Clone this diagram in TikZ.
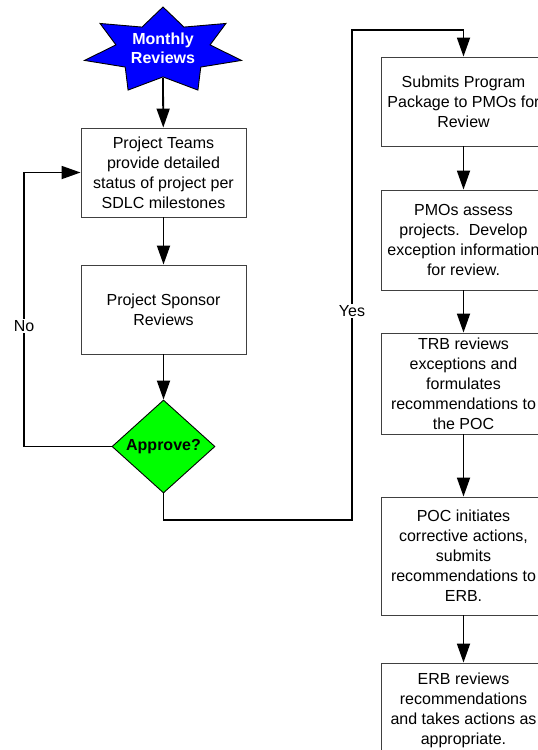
\documentclass[tikz,border=0pt]{standalone}
\usepackage{fontspec}
\setmainfont{Liberation Sans}
\usetikzlibrary{arrows.meta,shapes.geometric}
\begin{document}
\begin{tikzpicture}[x=1pt,y=-1pt,
  txt/.style={font=\fontsize{16}{20}\selectfont, align=center},
  box/.style={txt, draw=black!75, line width=0.9pt, fill=white, minimum width=165pt, inner sep=0pt},
  conn/.style={line width=1.8pt, -{Triangle[length=19pt,width=13pt]}},
  plain/.style={line width=1.8pt},
  lbl/.style={font=\fontsize{16}{20}\selectfont, fill=white, inner sep=1pt}
]
\useasboundingbox (0,0) rectangle (538,750);
\clip (0,0) rectangle (538,750);
% star
\draw[fill=blue, draw=black, line width=0.9pt]
  plot[samples at={0,...,13}] ({163+80.5*(1-0.4*mod(\x,2))*cos(90+\x*180/7)}, {50.7-43.7*(1-0.4*mod(\x,2))*sin(90+\x*180/7)}) -- cycle;
\node[txt, text=white, font=\fontsize{16}{19}\selectfont\bfseries] (star) at (163,48) {Monthly\\Reviews};
\coordinate (starb) at (163,78);
% left column
\node[box, minimum height=89pt] (b1) at (163.5,172.5) {Project Teams\\provide detailed\\status of project per\\SDLC milestones};
\node[box, minimum height=89pt] (b2) at (163.5,309.5) {Project Sponsor\\Reviews};
\node[diamond, draw=black, line width=0.9pt, fill=green, minimum width=103pt, minimum height=93pt, inner sep=0pt, font=\fontsize{16}{20}\selectfont\bfseries] (dia) at (163.5,446.5) {Approve?};
% right column
\node[box, minimum height=89pt] (bA) at (463.5,101.5) {Submits Program\\Package to PMOs for\\Review};
\node[box, minimum height=100pt] (bB) at (463.5,240) {PMOs assess\\projects.\ \ Develop\\exception information\\for review.};
\node[box, minimum height=101pt] (bC) at (463.5,383.5) {TRB reviews\\exceptions and\\formulates\\recommendations to\\the POC};
\node[box, minimum height=118pt] (bD) at (463.5,556) {POC initiates\\corrective actions,\\submits\\recommendations to\\ERB.};
\node[box, minimum height=94pt] (bE) at (463.5,710) {ERB reviews\\recommendations\\and takes actions as\\appropriate.};
% connectors
\draw[conn] (starb) -- (b1);
\draw[conn] (b1) -- (b2);
\draw[conn] (b2) -- (dia);
\coordinate (nocorner) at (24,446.5);
\draw[conn] (dia.west) -- (nocorner) |- (b1.west);
\node[lbl] (nolbl) at (24,326) {No};
\coordinate (ya) at (163.5,520);
\coordinate (yb) at (352,30);
\draw[conn] (dia.south) -- (ya) -| (yb) -| (bA.north);
\node[lbl] (yeslbl) at (352,311) {Yes};
\draw[conn] (bA) -- (bB);
\draw[conn] (bB) -- (bC);
\draw[conn] (bC) -- (bD);
\draw[conn] (bD) -- (bE);
\end{tikzpicture}
\end{document}
